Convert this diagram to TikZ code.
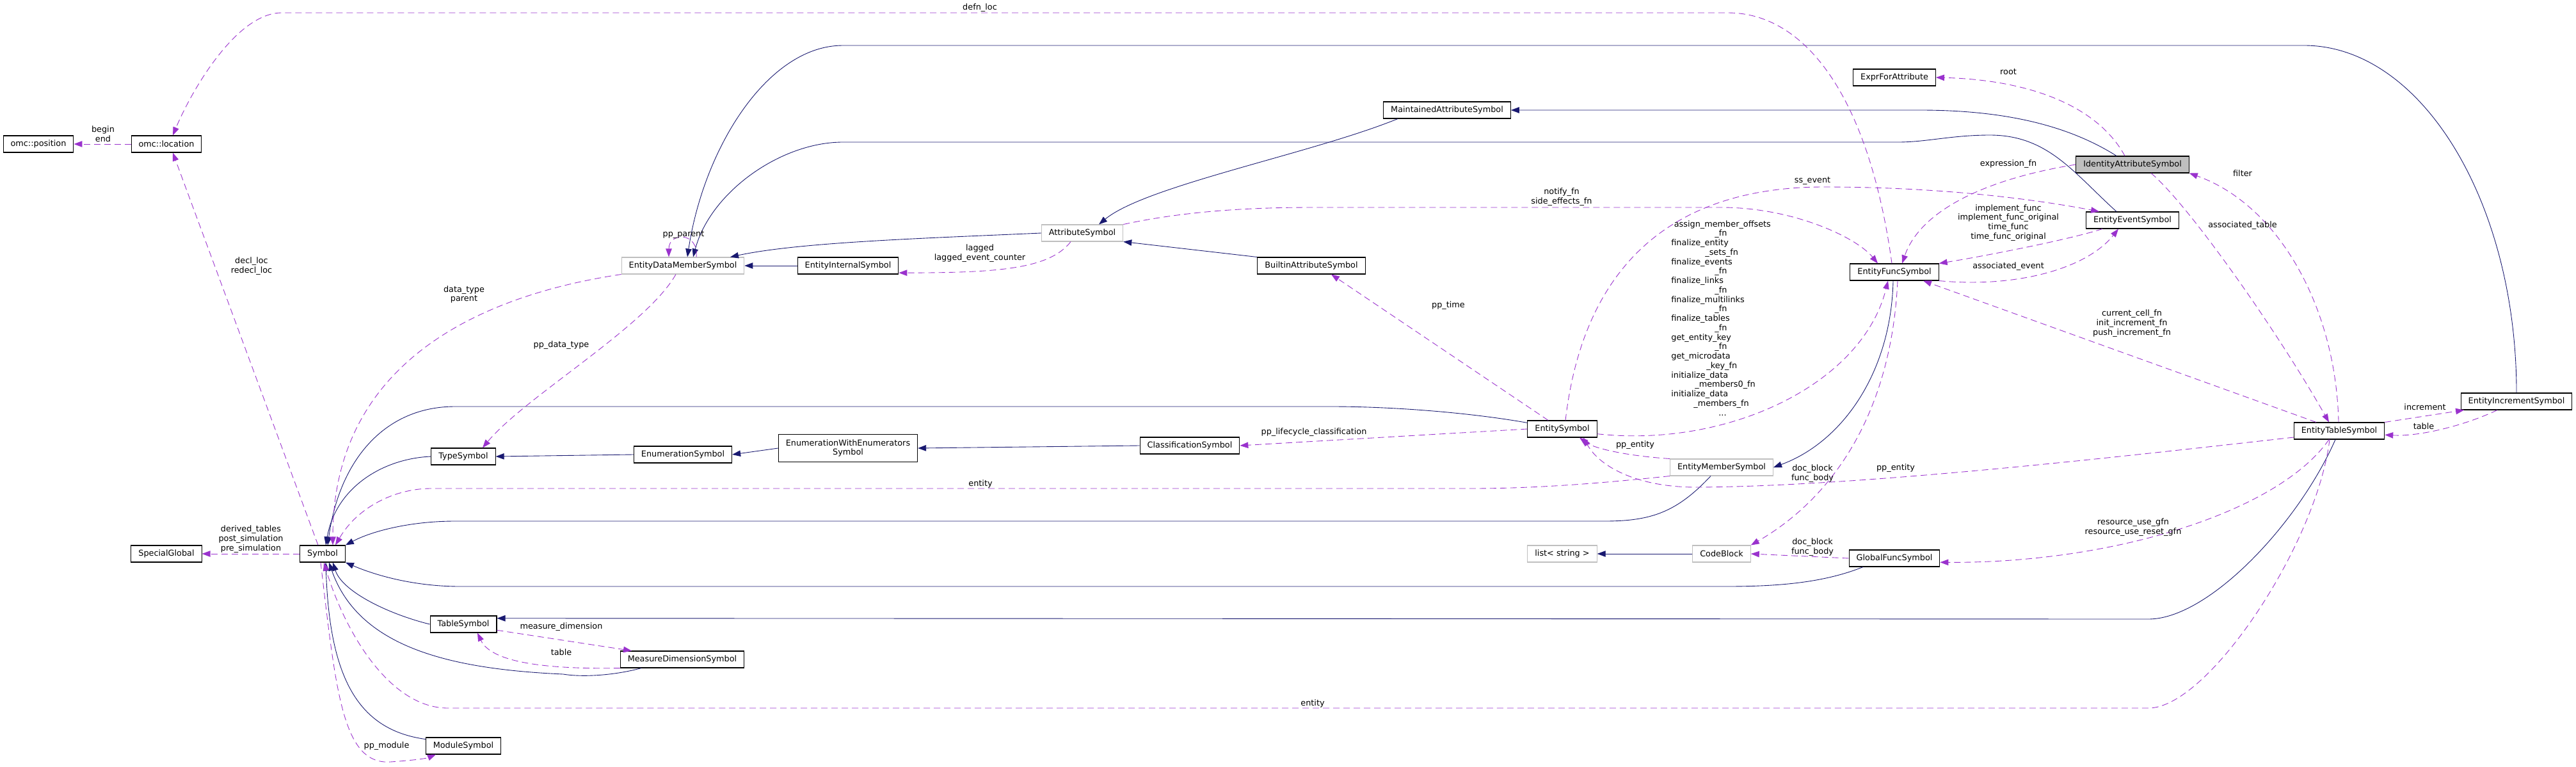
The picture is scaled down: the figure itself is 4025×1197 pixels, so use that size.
\documentclass[tikz,border=0pt]{standalone}
\usepackage{fontspec}
\setmainfont{DejaVu Sans}
\usetikzlibrary{arrows.meta}

\definecolor{inhblue}{RGB}{25,25,112}
\definecolor{usepurple}{RGB}{154,50,205}
\definecolor{docgray}{RGB}{191,191,191}
\newcommand{\dxfont}{\fontsize{7.3}{8.4}\selectfont}

\tikzstyle{cls} = [rectangle, draw=black, fill=white, line width=0.6pt, minimum height=0.52cm, inner xsep=0.23cm, inner ysep=0pt, font=\dxfont]
\tikzstyle{undoc} = [cls, draw=docgray]
\tikzstyle{rootcls} = [cls, fill=docgray]
\tikzstyle{inherit} = [color=inhblue, line width=0.5pt, -{Triangle[length=0.26cm, width=0.19cm]}]
\tikzstyle{usage} = [color=usepurple, line width=0.5pt, dash pattern=on 0.2cm off 0.12cm, -{Triangle[length=0.26cm, width=0.19cm]}]
\tikzstyle{edgelabel} = [font=\dxfont, align=center, inner sep=0pt]

\begin{document}
\begin{tikzpicture}[x=0.02cm, y=-0.02cm]
\useasboundingbox (0,0) rectangle (4025,1197);

% --- Classes ---
\node (pos) [cls] at (60,225) {omc::position};
\node (loc) [cls] at (260,225) {omc::location};
\node (special) [cls] at (260,865) {SpecialGlobal};
\node (sym) [cls] at (504,865) {Symbol};
\node (typesym) [cls] at (724,713) {TypeSymbol};
\node (tablesym) [cls] at (724,975) {TableSymbol};
\node (modsym) [cls] at (724,1165) {ModuleSymbol};
\node (edms) [undoc] at (1067,415) {EntityDataMemberSymbol};
\node (enumsym) [cls] at (1067,710) {EnumerationSymbol};
\node (mdsym) [cls] at (1066,1030) {MeasureDimensionSymbol};
\node (internal) [cls] at (1325,415) {EntityInternalSymbol};
\node (enumwith) [cls, align=center, inner ysep=0.15cm] at (1325,700) {EnumerationWithEnumerators\\Symbol};
\node (attr) [undoc] at (1691,364) {AttributeSymbol};
\node (classif) [cls] at (1859,696) {ClassificationSymbol};
\node (builtin) [cls] at (2049,415) {BuiltinAttributeSymbol};
\node (maint) [cls] at (2261,172) {MaintainedAttributeSymbol};
\node (entsym) [cls] at (2441,670) {EntitySymbol};
\node (liststr) [undoc] at (2441,865) {list< string >};
\node (ems) [undoc] at (2690,730) {EntityMemberSymbol};
\node (codeblock) [undoc] at (2690,865) {CodeBlock};
\node (efs) [cls] at (2960,425) {EntityFuncSymbol};
\node (expr) [cls] at (2960,121) {ExprForAttribute};
\node (gfs) [cls] at (2960,872) {GlobalFuncSymbol};
\node (ias) [rootcls] at (3332,257) {IdentityAttributeSymbol};
\node (ees) [cls] at (3332,344) {EntityEventSymbol};
\node (ets) [cls] at (3655,673) {EntityTableSymbol};
\node (eis) [cls] at (3932,627) {EntityIncrementSymbol};

% --- Inheritance ---
\draw [inherit] (eis.north) .. controls (3932,315) and (3783,71) .. (3600,71) -- (1317,71) .. controls (1200,71) and (1100,230) .. (1074,0 |- edms.north);
\draw [inherit] (3307,0 |- ees.north) .. controls (3240,270) and (3200,211) .. (3109,211) .. controls (3050,211) and (3010,222) .. (2966,222) -- (1317,222) .. controls (1220,222) and (1110,300) .. (1083,0 |- edms.north);
\draw [inherit] (internal.west) -- (edms.east);
\draw [inherit] (attr.west) .. controls (1450,372) and (1250,378) .. (1141,0 |- edms.north);
\draw [inherit] (2184,0 |- maint.south) .. controls (2050,240) and (1790,290) .. (1717,0 |- attr.north);
\draw [inherit] (1964,0 |- builtin.north) -- (attr.south east);
\draw [inherit] (3307,0 |- ias.north) .. controls (3230,195) and (3130,172) .. (3000,172) -- (maint.east);
\draw [inherit] (enumsym.west) -- (typesym.east);
\draw [inherit] (enumwith.west) -- (enumsym.east);
\draw [inherit] (classif.west) -- (enumwith.east);
\draw [inherit] (typesym.west) .. controls (600,716) and (525,760) .. (509,0 |- sym.north);
\draw [inherit] (entsym.170) .. controls (2300,645) and (2180,635) .. (2080,635) -- (711,635) .. controls (600,635) and (530,720) .. (512,0 |- sym.north);
\draw [inherit] (2673,0 |- ems.south) .. controls (2620,800) and (2580,814) .. (2507,814) -- (711,814) .. controls (640,814) and (580,830) .. (sym.north east);
\draw [inherit] (2911,0 |- gfs.south) .. controls (2850,910) and (2780,916) .. (2697,916) -- (719,916) .. controls (650,916) and (590,900) .. (sym.south east);
\draw [inherit] (3649,0 |- ets.south) .. controls (3590,820) and (3450,967) .. (3357,967) -- (tablesym.10);
\draw [inherit] (tablesym.west) .. controls (610,960) and (535,925) .. (520,0 |- sym.south);
\draw [inherit] (1002,0 |- mdsym.south) .. controls (960,1055) and (910,1058) .. (880,1053) .. controls (700,1045) and (560,1010) .. (514,0 |- sym.south);
\draw [inherit] (modsym.170) .. controls (560,1140) and (515,1060) .. (509,0 |- sym.south);
\draw [inherit] (2958,0 |- efs.south) .. controls (2955,580) and (2880,690) .. (ems.east);
\draw [inherit] (codeblock.west) -- (liststr.east);

% --- Usage ---
\draw [usage] (loc.west) -- (pos.east);
\draw [usage] (497,0 |- sym.north) -- (270,0 |- loc.south);
\draw [usage] (2956,0 |- efs.north) .. controls (2920,150) and (2820,20) .. (2700,20) -- (440,20) .. controls (370,20) and (300,140) .. (270,0 |- loc.north);
\draw [usage] (sym.west) -- (special.east);
\draw [usage] (ems.south west) .. controls (2500,755) and (2400,763) .. (2298,763) -- (673,763) .. controls (620,763) and (560,790) .. (524,0 |- sym.north);
\draw [usage] (3640,0 |- ets.south) .. controls (3620,850) and (3450,1106) .. (3357,1106) -- (700,1106) .. controls (610,1106) and (540,990) .. (506,0 |- sym.south);
\draw [usage] (501,0 |- sym.south) .. controls (525,1080) and (535,1195) .. (610,1190) .. controls (640,1188) and (665,1185) .. (681,0 |- modsym.south);
\draw [usage] (mdsym.south west) .. controls (880,1045) and (770,1040) .. (746,0 |- tablesym.south);
\draw [usage] (tablesym.-10) -- (987,0 |- mdsym.north);
\draw [usage] (edms.south west) .. controls (760,460) and (520,560) .. (520,0 |- sym.north);
\draw [usage] (1056,0 |- edms.south) .. controls (1010,510) and (820,620) .. (754,0 |- typesym.north);
\draw [usage] (1088,0 |- edms.north) .. controls (1092,362) and (1045,362) .. (1045,0 |- edms.north);
\draw [usage] (1673,0 |- attr.south) .. controls (1640,420) and (1560,426) .. (internal.-8);
\draw [usage] (attr.north east) .. controls (1850,330) and (1950,324) .. (2050,324) -- (2690,324) .. controls (2800,324) and (2900,370) .. (2934,0 |- efs.north);
\draw [usage] (2446,0 |- entsym.north) .. controls (2470,450) and (2580,292) .. (2850,292) .. controls (3050,292) and (3200,315) .. (3280,0 |- ees.north);
\draw [usage] (entsym.-8) .. controls (2700,700) and (2910,600) .. (2950,0 |- efs.south);
\draw [usage] (3285,0 |- ees.south) .. controls (3230,375) and (3100,400) .. (efs.north east);
\draw [usage] (efs.south east) .. controls (3150,450) and (3260,420) .. (3310,0 |- ees.south);
\draw [usage] (ias.west) .. controls (3100,280) and (3000,330) .. (2972,0 |- efs.north);
\draw [usage] (3320,0 |- ias.north) .. controls (3280,170) and (3180,125) .. (expr.east);
\draw [usage] (3654,0 |- ets.north) .. controls (3650,480) and (3560,320) .. (ias.south east);
\draw [usage] (3361,0 |- ias.south) .. controls (3420,320) and (3560,520) .. (3639,0 |- ets.north);
\draw [usage] (3619,0 |- ets.north) -- (3005,0 |- efs.south);
\draw [usage] (ets.north east) -- (3850,0 |- eis.south);
\draw [usage] (3902,0 |- eis.south) .. controls (3850,665) and (3780,682) .. (ets.-5);
\draw [usage] (ems.north west) .. controls (2540,712) and (2490,700) .. (2468,0 |- entsym.south);
\draw [usage] (ets.188) .. controls (3300,715) and (2900,760) .. (2650,761) .. controls (2560,761) and (2500,730) .. (2474,0 |- entsym.south);
\draw [usage] (2965,0 |- efs.south) .. controls (2955,650) and (2860,780) .. (codeblock.north east);
\draw [usage] (gfs.west) -- (codeblock.east);
\draw [usage] (3639,0 |- ets.south) .. controls (3560,800) and (3300,880) .. (gfs.-5);
\draw [usage] (entsym.west) -- (classif.east);
\draw [usage] (2419,0 |- entsym.north) -- (2080,0 |- builtin.south);

% --- Labels ---
\node (l_beginend) [edgelabel] at (161,209) {begin\\end};
\node (l_declloc) [edgelabel] at (393,416) {decl\_loc\\redecl\_loc};
\node (l_defnloc) [edgelabel] at (1531,12) {defn\_loc};
\node (l_special) [edgelabel] at (392,842) {derived\_tables\\post\_simulation\\pre\_simulation};
\node (l_ppmodule) [edgelabel] at (604,1165) {pp\_module};
\node (l_measure) [edgelabel] at (877,979) {measure\_dimension};
\node (l_table) [edgelabel] at (877,1019) {table};
\node (l_datatype) [edgelabel] at (725,460) {data\_type\\parent};
\node (l_ppdatatype) [edgelabel] at (877,539) {pp\_data\_type};
\node (l_ppparent) [edgelabel] at (1068,367) {pp\_parent};
\node (l_lagged) [edgelabel] at (1531,396) {lagged\\lagged\_event\_counter};
\node (l_notify) [edgelabel] at (2440,308) {notify\_fn\\side\_effects\_fn};
\node (l_pptime) [edgelabel] at (2263,477) {pp\_time};
\node (l_lifecycle) [edgelabel] at (2053,675) {pp\_lifecycle\_classification};
\node (l_entitytop) [edgelabel] at (1532,756) {entity};
\node (l_entitybot) [edgelabel] at (2051,1099) {entity};
\node (l_ssevent) [edgelabel] at (2832,283) {ss\_event};
\node (l_exprfn) [edgelabel] at (3138,256) {expression\_fn};
\node (l_root) [edgelabel] at (3138,112) {root};
\node (l_implement) [edgelabel] at (3138,348) {implement\_func\\implement\_func\_original\\time\_func\\time\_func\_original};
\node (l_assocevent) [edgelabel] at (3138,416) {associated\_event};
\node (l_filter) [edgelabel] at (3504,271) {filter};
\node (l_assoctable) [edgelabel] at (3504,352) {associated\_table};
\node (l_cellfn) [edgelabel] at (3331,505) {current\_cell\_fn\\init\_increment\_fn\\push\_increment\_fn};
\node (l_increment) [edgelabel] at (3789,636) {increment};
\node (l_tableinc) [edgelabel] at (3787,666) {table};
\node (l_ppentity) [edgelabel] at (2555,695) {pp\_entity};
\node (l_ppentity2) [edgelabel] at (2962,731) {pp\_entity};
\node (l_docblock) [edgelabel] at (2832,740) {doc\_block\\func\_body};
\node (l_docblock2) [edgelabel] at (2832,855) {doc\_block\\func\_body};
\node (l_resource) [edgelabel] at (3333,824) {resource\_use\_gfn\\resource\_use\_reset\_gfn};
\node (l_assign) [edgelabel, align=left, anchor=north west] at (2611,344) {\hspace*{0.09cm}assign\_member\_offsets\\\hspace*{1.36cm}\_fn\\finalize\_entity\\\hspace*{1.06cm}\_sets\_fn\\finalize\_events\\\hspace*{1.36cm}\_fn\\finalize\_links\\\hspace*{1.36cm}\_fn\\finalize\_multilinks\\\hspace*{1.36cm}\_fn\\finalize\_tables\\\hspace*{1.36cm}\_fn\\get\_entity\_key\\\hspace*{1.36cm}\_fn\\get\_microdata\\\hspace*{1.1cm}\_key\_fn\\initialize\_data\\\hspace*{0.74cm}\_members0\_fn\\initialize\_data\\\hspace*{0.7cm}\_members\_fn\\\hspace*{1.48cm}...};

\end{tikzpicture}
\end{document}
